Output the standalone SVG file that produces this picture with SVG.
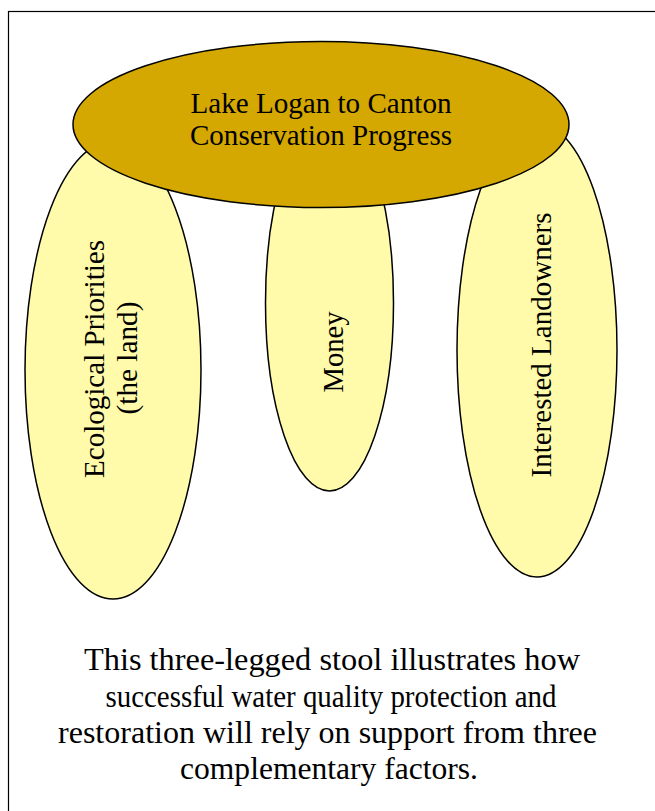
<svg xmlns="http://www.w3.org/2000/svg" width="655" height="811" viewBox="0 0 655 811">
<style>
.leg{fill:#FFFBAA;stroke:#000;stroke-width:1.5}
.seat{fill:#D4A800;stroke:#000;stroke-width:1.5}
.t{font-family:"Liberation Serif","Times New Roman",serif;fill:#000;text-anchor:middle}
.lbl{font-size:28.5px}
.cap{font-size:32px}
</style>
<rect x="8.5" y="11.5" width="660" height="820" fill="#fff" stroke="#000" stroke-width="1.2"/>
<g id="connectors"/>
<g id="leg-ecological">
<ellipse class="leg" cx="113" cy="370" rx="88" ry="229"/>
<text class="t lbl" transform="translate(104,359) rotate(-90)" textLength="238" lengthAdjust="spacingAndGlyphs">Ecological Priorities</text>
<text class="t lbl" transform="translate(137,358) rotate(-90)" textLength="113" lengthAdjust="spacingAndGlyphs">(the land)</text>
</g>
<g id="leg-money">
<ellipse class="leg" cx="329.5" cy="303" rx="64" ry="188"/>
<text class="t lbl" transform="translate(343,352) rotate(-90)" textLength="81" lengthAdjust="spacingAndGlyphs">Money</text>
</g>
<g id="leg-landowners">
<ellipse class="leg" cx="537" cy="350" rx="80" ry="227"/>
<text class="t lbl" transform="translate(551,345) rotate(-90)" textLength="265" lengthAdjust="spacingAndGlyphs">Interested Landowners</text>
</g>
<g id="seat">
<ellipse class="seat" cx="321" cy="124.5" rx="248" ry="83"/>
<text class="t lbl" x="321" y="113" textLength="261" lengthAdjust="spacingAndGlyphs">Lake Logan to Canton</text>
<text class="t lbl" x="321" y="145" textLength="262" lengthAdjust="spacingAndGlyphs">Conservation Progress</text>
</g>
<g id="caption">
<text class="t cap" x="332" y="670" textLength="496" lengthAdjust="spacingAndGlyphs">This three-legged stool illustrates how</text>
<text class="t cap" x="331" y="707" textLength="451" lengthAdjust="spacingAndGlyphs">successful water quality protection and</text>
<text class="t cap" x="327.5" y="743" textLength="539" lengthAdjust="spacingAndGlyphs">restoration will rely on support from three</text>
<text class="t cap" x="329" y="779" textLength="298" lengthAdjust="spacingAndGlyphs">complementary factors.</text>
</g>
</svg>
